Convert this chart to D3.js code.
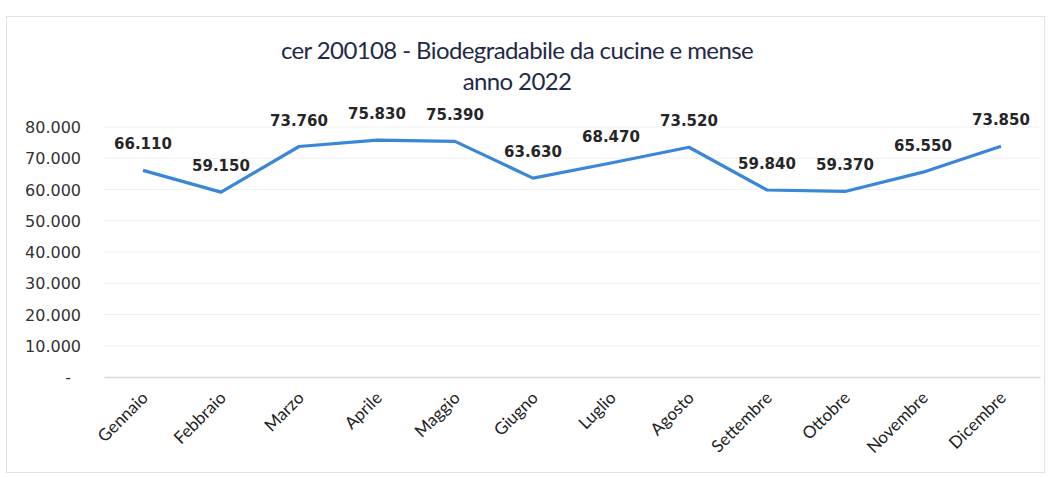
<!DOCTYPE html>
<html>
<head>
<meta charset="utf-8">
<script src="https://cdn.jsdelivr.net/npm/d3@7"></script>
<style>
  body { margin: 0; background: #fff; }
  .title { font-family: Lato, "Open Sans", sans-serif; fill: #1f2a48; }
  .ytick text { font-family: "DejaVu Sans", sans-serif; font-size: 16px; fill: #333; }
  .xtick text { font-family: Lato, "Open Sans", sans-serif; font-size: 17px; fill: #222; }
  .lbl { font-family: "DejaVu Sans", sans-serif; font-weight: bold; font-size: 15px; fill: #262626; }
</style>
</head>
<body>
<div id="chart"></div>
<script>
const months = ["Gennaio", "Febbraio", "Marzo", "Aprile", "Maggio", "Giugno",
                "Luglio", "Agosto", "Settembre", "Ottobre", "Novembre", "Dicembre"];
const values = [66110, 59150, 73760, 75830, 75390, 63630,
                68470, 73520, 59840, 59370, 65550, 73850];
const yTicks = [0, 10000, 20000, 30000, 40000, 50000, 60000, 70000, 80000];
const titleLines = ["cer 200108 - Biodegradabile da cucine e mense", "anno 2022"];

const w = 1049, h = 477;
const pLeft = 104, pRight = 1040, pTop = 127, pBottom = 377;

const fmt = d => d === 0 ? "-" : d3.format(",.3f")(d / 1000).replace(",", "");

const svg = d3.select("#chart").append("svg")
  .attr("width", w)
  .attr("height", h);

// chart frame
svg.append("rect")
  .attr("x", 6.5).attr("y", 16.5)
  .attr("width", 1038).attr("height", 456)
  .attr("fill", "#fff")
  .attr("stroke", "#e2e2e2");

const x = d3.scaleBand().domain(months).range([pLeft, pRight]);
const y = d3.scaleLinear().domain([0, 80000]).range([pBottom, pTop]);

// gridlines
svg.append("g")
  .selectAll("line")
  .data(yTicks.slice(1))
  .enter().append("line")
  .attr("x1", pLeft).attr("x2", pRight)
  .attr("y1", d => y(d)).attr("y2", d => y(d))
  .attr("stroke", "#f1f1f1");

// y axis labels
const yAxis = d3.axisLeft(y).tickValues(yTicks).tickFormat(fmt).tickSize(0).tickPadding(0);
const gy = svg.append("g")
  .attr("class", "ytick")
  .attr("transform", "translate(81,0)")
  .call(yAxis);
gy.select(".domain").remove();
gy.selectAll("text").attr("dy", "0.35em")
  .filter(d => d === 0).attr("fill", "#aaa").attr("dx", -10);

// x axis
const xAxis = d3.axisBottom(x).tickSize(0).tickPadding(0);
const gx = svg.append("g")
  .attr("class", "xtick")
  .attr("transform", "translate(0," + pBottom + ")")
  .call(xAxis);
gx.select(".domain").attr("stroke", "#d9d9d9").attr("stroke-width", 1.5);
gx.selectAll("text")
  .attr("text-anchor", "end")
  .attr("dy", 0)
  .attr("y", 0)
  .attr("transform", "translate(6,22) rotate(-45)");

// line
const line = d3.line()
  .x((d, i) => x(months[i]) + x.bandwidth() / 2)
  .y(d => y(d));

svg.append("path")
  .datum(values)
  .attr("fill", "none")
  .attr("stroke", "#3a87d7")
  .attr("stroke-width", 3.2)
  .attr("stroke-linejoin", "round")
  .attr("d", line);

// data labels
svg.append("g")
  .selectAll("text")
  .data(values)
  .enter().append("text")
  .attr("class", "lbl")
  .attr("x", (d, i) => x(months[i]) + x.bandwidth() / 2)
  .attr("y", d => y(d) - 21)
  .attr("text-anchor", "middle")
  .text(fmt);

// title
svg.append("g")
  .selectAll("text")
  .data(titleLines)
  .enter().append("text")
  .attr("class", "title")
  .attr("x", 517)
  .attr("y", (d, i) => 59 + i * 31)
  .attr("text-anchor", "middle")
  .attr("font-size", 24)
  .attr("letter-spacing", -0.6)
  .text(d => d);
</script>
</body>
</html>
